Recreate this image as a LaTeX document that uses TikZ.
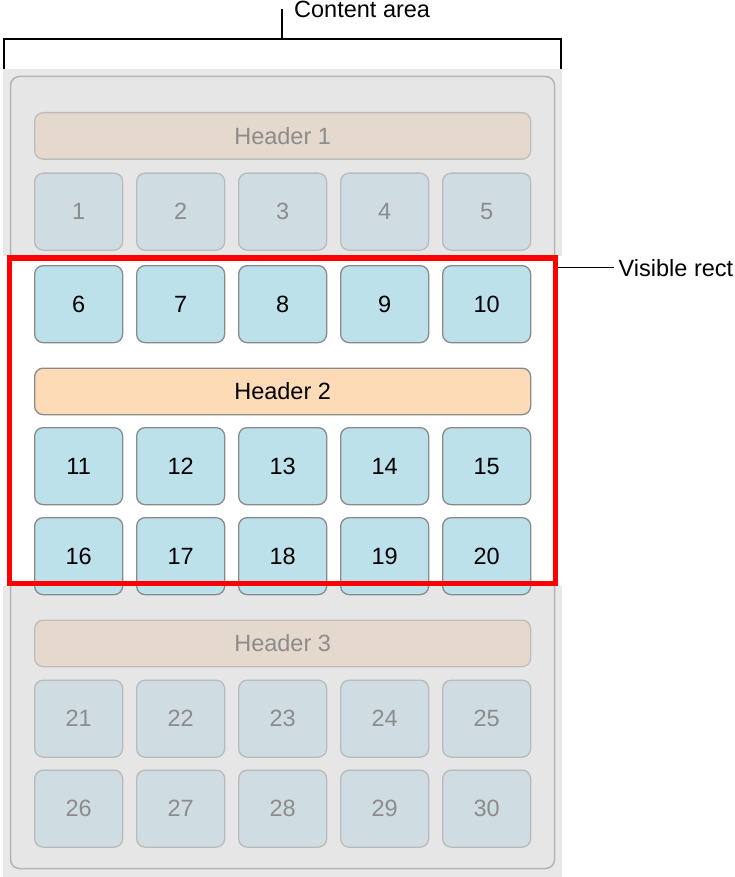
\documentclass[tikz,border=0pt]{standalone}
\usepackage{fontspec}
\setmainfont{Liberation Sans}
\definecolor{bgout}{HTML}{E8E8E8}
\definecolor{bgin}{HTML}{E6E6E6}
\definecolor{bgline}{HTML}{B4B4B4}
\definecolor{fcellfill}{HTML}{CFDCE2}
\definecolor{fcellline}{HTML}{B8BBBD}
\definecolor{ftext}{HTML}{8C8C8C}
\definecolor{acellfill}{HTML}{BDE1EB}
\definecolor{aline}{HTML}{8A8A8A}
\definecolor{ahdrfill}{HTML}{FDDBB7}
\definecolor{fhdrfill}{HTML}{E5D8CC}
\definecolor{fhdrline}{HTML}{BDBDBD}
\definecolor{visred}{HTML}{FF0000}
\tikzset{
  lbl/.style={font=\fontsize{23.5}{28}\selectfont, inner sep=0pt, text=black},
  cellbase/.style={rounded corners=8.5pt, line width=1.3pt, anchor=north west, inner sep=0pt,
    minimum width=88pt, minimum height=77pt, font=\fontsize{23.5}{28}\selectfont},
  fcell/.style={cellbase, fill=fcellfill, draw=fcellline, text=ftext},
  acell/.style={cellbase, fill=acellfill, draw=aline, text=black},
  hdrbase/.style={rounded corners=8.5pt, line width=1.3pt, anchor=north west, inner sep=0pt,
    minimum width=496pt, minimum height=46.5pt, font=\fontsize{23.5}{28}\selectfont},
  fhdr/.style={hdrbase, fill=fhdrfill, draw=fhdrline, text=ftext},
  ahdr/.style={hdrbase, fill=ahdrfill, draw=aline, text=black},
  bracket/.style={line width=1.6pt, black},
}
\begin{document}
\begin{tikzpicture}[x=1pt,y=-1pt]
\useasboundingbox (0,0) rectangle (735,877);
% backgrounds
\fill[bgout] (3,69) rectangle (561.5,877);
\draw[bgline, fill=bgin, line width=1.5pt, rounded corners=9pt] (10.5,76.5) rectangle (554.5,868.5);
\fill[white] (2,256) rectangle (562.5,586);
% headers
\node[fhdr] (h1) at (34,112) {Header 1};
\node[ahdr] (h2) at (34,367.5) {Header 2};
\node[fhdr] (h3) at (34,619.5) {Header 3};
% cells
\foreach \r/\y/\st in {0/172.5/fcell,1/265/acell,2/427/acell,3/517/acell,4/679.5/fcell,5/769.5/fcell}{
  \foreach \c in {0,...,4}{
    \pgfmathtruncatemacro{\n}{\r*5+\c+1}
    \node[\st] (c\n) at (34+102*\c,\y) {\n};
  }
}
% visible rect outline
\node[draw=visred, line width=5.5pt, minimum width=546pt, minimum height=325.5pt, anchor=center, inner sep=0pt] (vis) at (282.5,420.75) {};
% content area bracket
\coordinate (bl) at (3.8,69);
\coordinate (br) at (560.8,69);
\coordinate (top) at (282,39);
\coordinate (tick) at (282,9.5);
\draw[bracket] (bl) -- (bl |- top) -- (br |- top) -- (br);
\draw[bracket] (top) -- (tick);
\node[lbl, anchor=base west] (clabel) at (294,18) {Content area};
% visible rect label
\node[lbl, anchor=base west] (vlabel) at (618.5,276) {Visible rect};
\draw[bracket] (vis.east |- vlabel.west) -- ([xshift=-5pt]vlabel.west);
\end{tikzpicture}
\end{document}
